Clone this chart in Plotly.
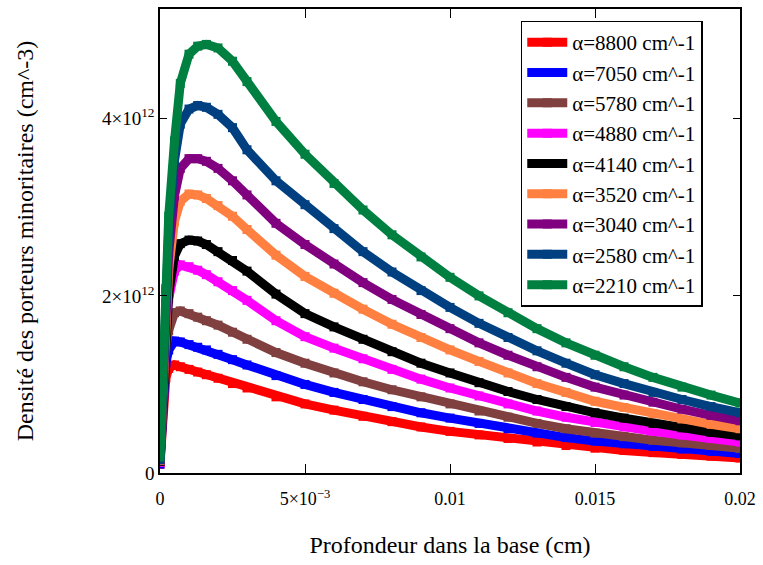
import plotly.graph_objects as go

# depth (cm)
x_cm = [0, 0.0001, 0.0002, 0.0003, 0.0005, 0.0007, 0.001, 0.0013, 0.0016, 0.002,
        0.0025, 0.003, 0.004, 0.005, 0.006, 0.007, 0.008, 0.009, 0.010, 0.011,
        0.012, 0.013, 0.014, 0.015, 0.016, 0.017, 0.018, 0.019, 0.020]

# minority carrier density, units of 1e12 cm^-3
n_8800 = [0.10, 0.83, 1.07, 1.18, 1.22, 1.20, 1.17, 1.14, 1.11, 1.07, 1.01, 0.96, 0.86, 0.78,
          0.71, 0.64, 0.58, 0.52, 0.47, 0.43, 0.39, 0.35, 0.31, 0.28, 0.255, 0.23, 0.21, 0.19, 0.17]
n_7050 = [0.10, 0.90, 1.24, 1.39, 1.49, 1.48, 1.45, 1.42, 1.39, 1.34, 1.28, 1.22, 1.10, 1.00,
          0.91, 0.83, 0.75, 0.68, 0.62, 0.56, 0.50, 0.45, 0.40, 0.36, 0.33, 0.30, 0.27, 0.245, 0.22]
n_5780 = [0.12, 0.95, 1.43, 1.61, 1.81, 1.83, 1.80, 1.76, 1.72, 1.67, 1.59, 1.51, 1.36, 1.24,
          1.13, 1.03, 0.94, 0.86, 0.78, 0.70, 0.63, 0.56, 0.50, 0.45, 0.41, 0.37, 0.34, 0.31, 0.28]
n_4880 = [0.12, 0.99, 1.65, 1.97, 2.28, 2.35, 2.33, 2.29, 2.24, 2.16, 2.06, 1.95, 1.72, 1.54,
          1.41, 1.29, 1.17, 1.06, 0.96, 0.87, 0.78, 0.70, 0.63, 0.57, 0.52, 0.47, 0.43, 0.39, 0.35]
n_4140 = [0.13, 0.95, 1.63, 2.03, 2.45, 2.59, 2.63, 2.62, 2.58, 2.50, 2.40, 2.28, 2.02, 1.80,
          1.65, 1.51, 1.37, 1.24, 1.13, 1.02, 0.92, 0.83, 0.75, 0.68, 0.62, 0.56, 0.51, 0.46, 0.42]
n_3520 = [0.14, 1.04, 1.83, 2.30, 2.84, 3.07, 3.15, 3.14, 3.10, 3.02, 2.90, 2.75, 2.46, 2.22,
          2.03, 1.85, 1.68, 1.53, 1.39, 1.26, 1.13, 1.01, 0.91, 0.81, 0.74, 0.67, 0.61, 0.55, 0.50]
n_3040 = [0.15, 1.07, 1.92, 2.49, 3.13, 3.44, 3.55, 3.55, 3.52, 3.44, 3.30, 3.14, 2.82, 2.58,
          2.36, 2.15, 1.96, 1.79, 1.63, 1.47, 1.33, 1.20, 1.08, 0.97, 0.88, 0.80, 0.72, 0.65, 0.59]
n_2580 = [0.15, 1.12, 2.08, 2.74, 3.53, 3.94, 4.11, 4.15, 4.13, 4.05, 3.90, 3.65, 3.30, 3.03,
          2.76, 2.50, 2.27, 2.06, 1.87, 1.69, 1.53, 1.38, 1.24, 1.11, 1.01, 0.91, 0.83, 0.75, 0.68]
n_2210 = [0.18, 0.95, 2.05, 2.90, 3.75, 4.40, 4.73, 4.82, 4.84, 4.80, 4.65, 4.42, 3.97, 3.60,
          3.27, 2.97, 2.69, 2.44, 2.21, 2.00, 1.81, 1.63, 1.47, 1.33, 1.20, 1.08, 0.97, 0.88, 0.79]

names = ["α=8800 cm^-1", "α=7050 cm^-1", "α=5780 cm^-1", "α=4880 cm^-1", "α=4140 cm^-1",
         "α=3520 cm^-1", "α=3040 cm^-1", "α=2580 cm^-1", "α=2210 cm^-1"]
series = [n_8800, n_7050, n_5780, n_4880, n_4140, n_3520, n_3040, n_2580, n_2210]
colors = ["#FF0000", "#0000FF", "#804040", "#FF00FF", "#000000",
          "#FF8040", "#800080", "#004080", "#008040"]

x_tickvals = [0, 0.005, 0.01, 0.015, 0.02]
x_ticktext = ["0", "5×10<sup>−3</sup>", "0.01", "0.015", "0.02"]
y_tickvals = [0, 2e12, 4e12]
y_ticktext = ["0", "2×10<sup>12</sup>", "4×10<sup>12</sup>"]

FONT = "Liberation Serif, Times New Roman, serif"

fig = go.Figure()
for name, vals, col in zip(names, series, colors):
    fig.add_trace(go.Scatter(
        x=x_cm, y=[v * 1e12 for v in vals], name=name, mode="lines+markers",
        line=dict(color=col, width=9),
        marker=dict(symbol="square", size=9, color=col),
    ))

fig.update_layout(
    width=763, height=565,
    margin=dict(l=160, r=21, t=7, b=92),
    paper_bgcolor="white", plot_bgcolor="white",
    font=dict(family=FONT, color="black", size=18),
    showlegend=True,
    legend=dict(x=0.622, y=0.975, xanchor="left", yanchor="top",
                bgcolor="white", bordercolor="black", borderwidth=1.5,
                font=dict(family=FONT, size=21, color="black"),
                tracegroupgap=0, itemwidth=40),
    xaxis=dict(range=[0, 0.02], tickvals=x_tickvals, ticktext=x_ticktext,
               showgrid=False, zeroline=False, showline=True, linecolor="black",
               linewidth=1.5, mirror="ticks", ticks="inside", ticklen=9,
               tickcolor="black", tickwidth=1.2, ticklabelstandoff=9,
               tickfont=dict(family=FONT, size=18),
               title=dict(text="Profondeur dans la base (cm)", standoff=28,
                          font=dict(family=FONT, size=24))),
    yaxis=dict(range=[0, 5.24e12], tickvals=y_tickvals, ticktext=y_ticktext,
               showgrid=False, zeroline=False, showline=True, linecolor="black",
               linewidth=1.5, mirror="ticks", ticks="inside", ticklen=7,
               tickcolor="black", tickwidth=1.2, ticklabelstandoff=0,
               tickfont=dict(family=FONT, size=19),
               title=dict(text="Densité des porteurs minoritaires (cm^-3)", standoff=62,
                          font=dict(family=FONT, size=24))),
)

fig.write_html("out.html")
